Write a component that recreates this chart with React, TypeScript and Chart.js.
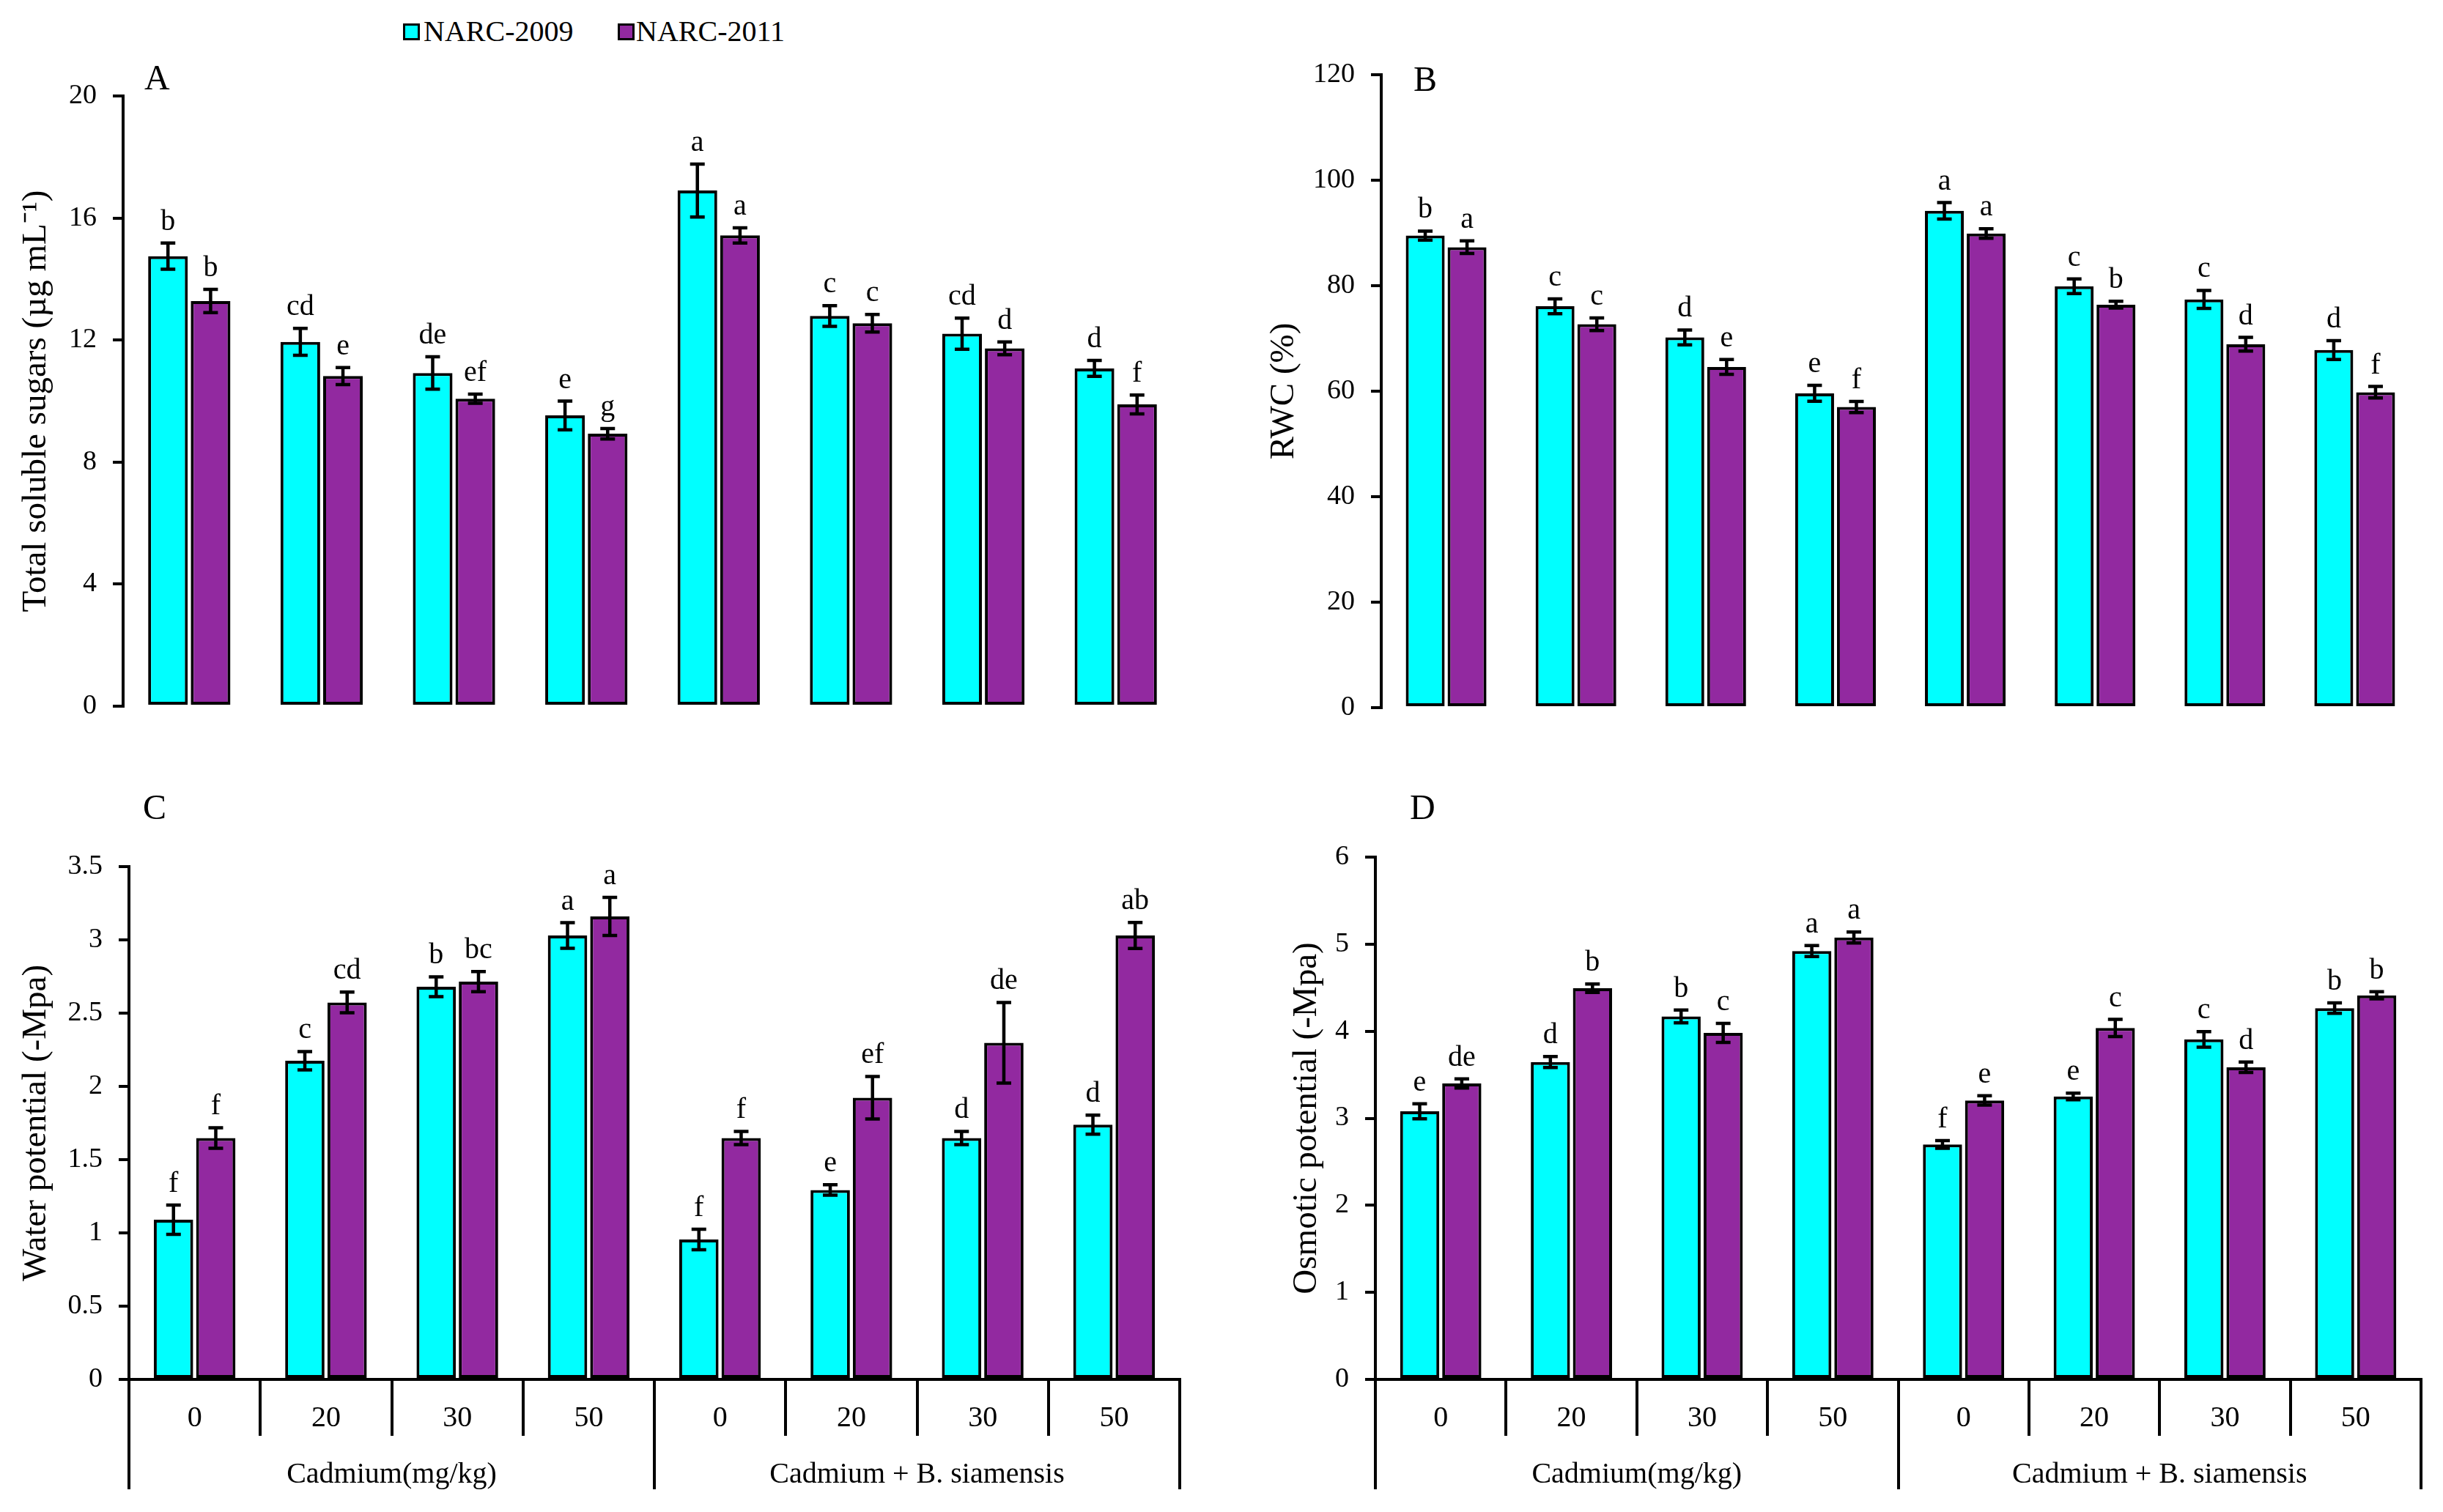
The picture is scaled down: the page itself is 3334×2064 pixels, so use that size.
import { useEffect, useRef } from 'react';
import { Chart, registerables } from 'chart.js';

Chart.register(...registerables);

const FONT = '"Liberation Serif", "Times New Roman", serif';
const CYAN = '#00FFFF';
const PURPLE = '#9229A0';

// ---------- data ----------
const seriesNames = ['NARC-2009', 'NARC-2011'];
const categories = ['0', '20', '30', '50', '0', '20', '30', '50'];
const groupLabels = ['Cadmium(mg/kg)', 'Cadmium + B. siamensis'];

// A: Total soluble sugars
const sugar2009 = [14.75, 11.94, 10.92, 9.53, 16.9, 12.79, 12.21, 11.07];
const sugar2011 = [13.28, 10.82, 10.08, 8.93, 15.43, 12.55, 11.73, 9.89];
const sugarErr2009 = [0.43, 0.44, 0.53, 0.47, 0.87, 0.34, 0.51, 0.26];
const sugarErr2011 = [0.38, 0.28, 0.15, 0.17, 0.25, 0.29, 0.21, 0.31];
const sugarLet2009 = ['b', 'cd', 'de', 'e', 'a', 'c', 'cd', 'd'];
const sugarLet2011 = ['b', 'e', 'ef', 'g', 'a', 'c', 'd', 'f'];

// B: RWC
const rwc2009 = [89.5, 76.1, 70.2, 59.6, 94.2, 79.9, 77.4, 67.8];
const rwc2011 = [87.3, 72.7, 64.6, 57.0, 89.9, 76.4, 68.9, 59.8];
const rwcErr2009 = [0.85, 1.4, 1.4, 1.5, 1.55, 1.4, 1.7, 1.8];
const rwcErr2011 = [1.2, 1.2, 1.4, 1.05, 0.9, 0.65, 1.3, 1.1];
const rwcLet2009 = ['b', 'c', 'd', 'e', 'a', 'c', 'c', 'd'];
const rwcLet2011 = ['a', 'c', 'e', 'f', 'a', 'b', 'd', 'f'];

// C: Water potential
const wp2009 = [1.09, 2.175, 2.68, 3.03, 0.955, 1.293, 1.648, 1.739];
const wp2011 = [1.648, 2.573, 2.715, 3.16, 1.648, 1.923, 2.298, 3.03];
const wpErr2009 = [0.1, 0.063, 0.068, 0.087, 0.07, 0.036, 0.045, 0.065];
const wpErr2011 = [0.07, 0.071, 0.069, 0.13, 0.045, 0.145, 0.275, 0.089];
const wpLet2009 = ['f', 'c', 'b', 'a', 'f', 'e', 'd', 'd'];
const wpLet2011 = ['f', 'cd', 'bc', 'a', 'f', 'ef', 'de', 'ab'];

// D: Osmotic potential
const op2009 = [3.08, 3.645, 4.17, 4.92, 2.7, 3.25, 3.906, 4.265];
const op2011 = [3.4, 4.494, 3.98, 5.076, 3.205, 4.037, 3.585, 4.412];
const opErr2009 = [0.087, 0.063, 0.073, 0.063, 0.044, 0.038, 0.09, 0.06];
const opErr2011 = [0.052, 0.049, 0.109, 0.063, 0.054, 0.098, 0.06, 0.041];
const opLet2009 = ['e', 'd', 'b', 'a', 'f', 'e', 'c', 'b'];
const opLet2011 = ['de', 'b', 'c', 'a', 'e', 'c', 'd', 'b'];

// ---------- panel layout / style ----------
type Panel = {
  id: string;
  left: number; top: number; w: number; h: number;
  pad: { top: number; right: number; bottom: number };
  yWidth: number; titlePad: number;
  yMax: number; yStep: number; yTitle: string;
  showX: boolean;
  labelDx: number; labelDy: number;
  values: number[][]; errors: number[][]; letters: string[][];
};

const panels: Panel[] = [
  {
    id: 'A', left: 0, top: 0, w: 1700, h: 1030,
    pad: { top: 131, right: 87, bottom: 66 }, yWidth: 168, titlePad: 21,
    yMax: 20, yStep: 4, yTitle: 'Total soluble sugars (µg mL⁻¹)', showX: false,
    labelDx: 29, labelDy: -9,
    values: [sugar2009, sugar2011], errors: [sugarErr2009, sugarErr2011], letters: [sugarLet2009, sugarLet2011],
  },
  {
    id: 'B', left: 1700, top: 0, w: 1634, h: 1030,
    pad: { top: 102, right: 32, bottom: 64 }, yWidth: 185, titlePad: 24,
    yMax: 120, yStep: 20, yTitle: 'RWC (%)', showX: false,
    labelDx: 44, labelDy: 22,
    values: [rwc2009, rwc2011], errors: [rwcErr2009, rwcErr2011], letters: [rwcLet2009, rwcLet2011],
  },
  {
    id: 'C', left: 0, top: 1000, w: 1700, h: 1064,
    pad: { top: 183, right: 90, bottom: 31 }, yWidth: 176, titlePad: 21,
    yMax: 3.5, yStep: 0.5, yTitle: 'Water potential (-Mpa)', showX: true,
    labelDx: 19, labelDy: -65,
    values: [wp2009, wp2011], errors: [wpErr2009, wpErr2011], letters: [wpLet2009, wpLet2011],
  },
  {
    id: 'D', left: 1700, top: 1000, w: 1634, h: 1064,
    pad: { top: 170, right: 30, bottom: 31 }, yWidth: 177, titlePad: 55,
    yMax: 6, yStep: 1, yTitle: 'Osmotic potential (-Mpa)', showX: true,
    labelDx: 47, labelDy: -52,
    values: [op2009, op2011], errors: [opErr2009, opErr2011], letters: [opLet2009, opLet2011],
  },
];

function makeChart(canvas: HTMLCanvasElement, p: Panel): Chart {
  const annot = {
    id: 'annot' + p.id,
    afterDatasetsDraw(chart: any) {
      const ctx = chart.ctx as CanvasRenderingContext2D;
      const yScale = chart.scales.y;
      chart.data.datasets.forEach((ds: any, di: number) => {
        const meta = chart.getDatasetMeta(di);
        meta.data.forEach((bar: any, i: number) => {
          const v = ds.data[i] as number;
          const e = p.errors[di][i];
          const x = bar.x;
          const yt = yScale.getPixelForValue(v + e);
          const yb = yScale.getPixelForValue(v - e);
          ctx.save();
          ctx.strokeStyle = '#000';
          ctx.lineWidth = 4.5;
          ctx.beginPath();
          ctx.moveTo(x, yt); ctx.lineTo(x, yb);
          ctx.moveTo(x - 10, yt); ctx.lineTo(x + 10, yt);
          ctx.moveTo(x - 10, yb); ctx.lineTo(x + 10, yb);
          ctx.stroke();
          ctx.fillStyle = '#000';
          ctx.font = `40px ${FONT}`;
          ctx.textAlign = 'center';
          ctx.textBaseline = 'alphabetic';
          ctx.fillText(p.letters[di][i], x, yt - 18);
          ctx.restore();
        });
      });
      const ca = chart.chartArea;
      ctx.save();
      ctx.fillStyle = '#000';
      ctx.font = `48px ${FONT}`;
      ctx.textAlign = 'left';
      ctx.textBaseline = 'alphabetic';
      ctx.fillText(p.id, ca.left + p.labelDx, ca.top + p.labelDy);
      ctx.restore();
    },
  };

  const xScale: any = {
    display: p.showX,
    offset: true,
    grid: {
      display: true, offset: true, drawOnChartArea: false, drawTicks: true,
      tickLength: 77, color: '#000', lineWidth: 4,
    },
    border: { display: true, color: '#000', width: 4 },
    ticks: {
      color: '#000', font: { family: FONT, size: 40 }, padding: -48,
      autoSkip: false, maxRotation: 0, minRotation: 0,
    },
  };
  if (p.showX) xScale.afterFit = (s: any) => { s.height = 77; };

  const scales: any = {
    x: xScale,
    y: {
      min: 0, max: p.yMax,
      ticks: {
        stepSize: p.yStep, color: '#000', font: { family: FONT, size: 38 }, padding: 22,
        callback: (v: number) => String(v),
      },
      grid: { drawOnChartArea: false, drawTicks: true, tickLength: 14, color: '#000', lineWidth: 4 },
      border: { display: true, color: '#000', width: 4 },
      title: {
        display: true, text: p.yTitle, color: '#000',
        font: { family: FONT, size: 47 }, padding: { top: p.titlePad, bottom: 0 },
      },
      afterFit: (s: any) => { s.width = p.yWidth; },
    },
  };
  if (p.showX) {
    scales.x2 = {
      type: 'category',
      labels: groupLabels,
      position: 'bottom',
      weight: 1,
      offset: true,
      grid: {
        display: true, offset: true, drawOnChartArea: false, drawTicks: true,
        tickLength: 73, color: '#000', lineWidth: 4,
      },
      border: { display: false },
      ticks: {
        color: '#000', font: { family: FONT, size: 40 }, padding: -44,
        autoSkip: false, maxRotation: 0, minRotation: 0,
      },
      afterFit: (s: any) => { s.height = 73; },
    };
  }

  return new Chart(canvas, {
    type: 'bar',
    data: {
      labels: categories,
      datasets: [
        {
          label: seriesNames[0], data: p.values[0], backgroundColor: CYAN,
          borderColor: '#000', borderWidth: 4, borderSkipped: false,
          categoryPercentage: 0.644, barPercentage: 0.93,
        },
        {
          label: seriesNames[1], data: p.values[1], backgroundColor: PURPLE,
          borderColor: '#000', borderWidth: 4, borderSkipped: false,
          categoryPercentage: 0.644, barPercentage: 0.93,
        },
      ],
    },
    options: {
      responsive: false,
      maintainAspectRatio: false,
      animation: false,
      events: [],
      layout: { padding: { left: 0, top: p.pad.top, right: p.pad.right, bottom: p.pad.bottom } },
      plugins: { legend: { display: false }, tooltip: { enabled: false } },
      scales,
    },
    plugins: [annot],
  } as any);
}

export default function App() {
  const canvases = useRef<(HTMLCanvasElement | null)[]>([]);

  useEffect(() => {
    const charts = panels.map((p, i) => makeChart(canvases.current[i]!, p));
    return () => charts.forEach((c) => c.destroy());
  }, []);

  const legendText: React.CSSProperties = {
    position: 'absolute', top: 23, fontFamily: FONT, fontSize: 40, lineHeight: '40px',
    color: '#000', whiteSpace: 'nowrap',
  };
  const legendBox: React.CSSProperties = {
    position: 'absolute', top: 32, width: 17, height: 17, border: '3px solid #000',
  };

  return (
    <div style={{ position: 'absolute', left: 0, top: 0, width: 3334, height: 2064, background: '#fff', overflow: 'hidden' }}>
      <div style={{ ...legendBox, left: 550, background: CYAN }} />
      <div style={{ ...legendText, left: 578 }}>{seriesNames[0]}</div>
      <div style={{ ...legendBox, left: 843, background: PURPLE }} />
      <div style={{ ...legendText, left: 868 }}>{seriesNames[1]}</div>
      {panels.map((p, i) => (
        <canvas
          key={p.id}
          ref={(el) => { canvases.current[i] = el; }}
          width={p.w}
          height={p.h}
          style={{ position: 'absolute', left: p.left, top: p.top, width: p.w, height: p.h }}
        />
      ))}
    </div>
  );
}
